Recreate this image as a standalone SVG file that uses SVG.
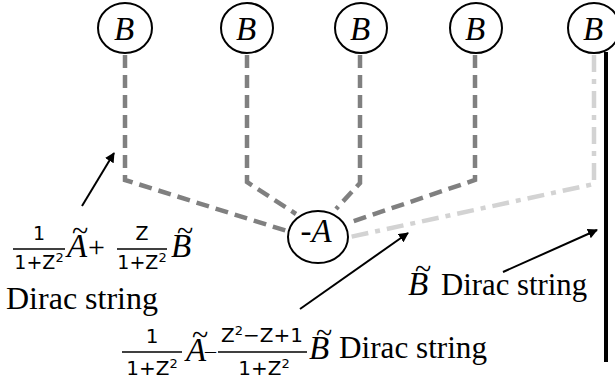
<svg xmlns="http://www.w3.org/2000/svg" width="615" height="379" viewBox="0 0 615 379">
<style>
.node{fill:#fff;stroke:#000;stroke-width:2}
.lbl{font-family:"Liberation Serif","Times New Roman",serif;font-style:italic;font-size:33px;fill:#000;text-anchor:middle}
.ser{font-family:"Liberation Serif","Times New Roman",serif;font-size:32px;fill:#000}
.it{font-family:"Liberation Serif","Times New Roman",serif;font-style:italic;font-size:33px;fill:#000}
.til{font-family:"Liberation Serif","Times New Roman",serif;font-size:30px;fill:#000;text-anchor:middle}
.fr{font-family:"DejaVu Sans","Noto Sans",sans-serif;font-size:19px;fill:#000;text-anchor:middle}
.fr2{font-family:"DejaVu Sans","Noto Sans",sans-serif;font-size:20px;fill:#000;text-anchor:middle}
.sup{font-size:13px}
.op{font-family:"Liberation Serif","Times New Roman",serif;font-size:30px;fill:#000}
.op2{font-family:"Liberation Serif","Times New Roman",serif;font-size:22px;fill:#000}
.dash{fill:none;stroke:#808080;stroke-width:4.5;stroke-dasharray:13 7}
.dashdot{fill:none;stroke:#d3d3d3;stroke-width:4.5;stroke-dasharray:17 7 5 7}
.solid{fill:none;stroke:#000;stroke-width:4}
.arr{fill:none;stroke:#000;stroke-width:2;marker-end:url(#ah)}
.bar{stroke:#000;stroke-width:1.5}
</style>
<defs>
<marker id="ah" viewBox="0 0 10 10" refX="9" refY="5" markerWidth="5" markerHeight="5" orient="auto" markerUnits="strokeWidth">
<path d="M0,0 L10,5 L0,10 z" fill="#000"/>
</marker>
</defs>
<g id="connectors">
<polyline class="dash" points="125,55 125,180 287,231"/>
<polyline class="dash" points="247,55 247,182 296,214"/>
<polyline class="dash" points="360,55 360,183 336,209"/>
<polyline class="dash" points="475,55 475,180 348,223"/>
<polyline class="dashdot" points="594,55 594,184 350,237"/>
<line class="solid" x1="606" y1="52" x2="606" y2="362"/>
<line class="arr" x1="82" y1="206" x2="114" y2="153"/>
<line class="arr" x1="300" y1="309" x2="408" y2="233"/>
<line class="arr" x1="503" y1="272" x2="597" y2="230"/>
</g>
<g id="B1"><ellipse class="node" cx="125" cy="28" rx="27" ry="25"/><text class="lbl" x="124" y="40">B</text></g>
<g id="B2"><ellipse class="node" cx="247" cy="28" rx="26" ry="25"/><text class="lbl" x="246" y="40">B</text></g>
<g id="B3"><ellipse class="node" cx="361" cy="28" rx="26" ry="25"/><text class="lbl" x="360" y="40">B</text></g>
<g id="B4"><ellipse class="node" cx="476" cy="28" rx="26" ry="25"/><text class="lbl" x="475" y="40">B</text></g>
<g id="B5"><ellipse class="node" cx="594" cy="28" rx="26" ry="25"/><text class="lbl" x="593" y="40">B</text></g>
<g id="A"><ellipse class="node" cx="318" cy="237" rx="30" ry="26"/><text class="lbl" x="316" y="242">-A</text></g>
<g id="label-left">
<text class="fr" x="39" y="240">1</text>
<line class="bar" x1="13" y1="249" x2="65" y2="249"/>
<text class="fr" x="39" y="269">1+Z<tspan class="sup" dy="-7">2</tspan></text>
<text class="it" x="67" y="257">A</text>
<text class="til" x="80" y="241">~</text>
<text class="op" x="88" y="257">+</text>
<text class="fr" x="142" y="240">Z</text>
<line class="bar" x1="117" y1="249" x2="167" y2="249"/>
<text class="fr" x="142" y="269">1+Z<tspan class="sup" dy="-7">2</tspan></text>
<text class="it" x="171" y="257">B</text>
<text class="til" x="185" y="241">~</text>
<text class="ser" x="6" y="309" textLength="152" lengthAdjust="spacingAndGlyphs">Dirac string</text>
</g>
<g id="label-right">
<text class="it" x="408" y="295">B</text>
<text class="til" x="423" y="279">~</text>
<text class="ser" x="441" y="295" textLength="146" lengthAdjust="spacingAndGlyphs">Dirac string</text>
</g>
<g id="label-bottom">
<text class="fr2" x="152" y="343">1</text>
<line class="bar" x1="122" y1="352" x2="182" y2="352"/>
<text class="fr2" x="152" y="375">1+Z<tspan class="sup" dy="-7">2</tspan></text>
<text class="it" x="186" y="361">A</text>
<text class="til" x="200" y="345">~</text>
<text class="op2" x="205" y="358">–</text>
<text class="fr2" x="262" y="342">Z<tspan class="sup" dy="-7">2</tspan><tspan dy="7">−Z+1</tspan></text>
<line class="bar" x1="218" y1="352" x2="307" y2="352"/>
<text class="fr2" x="264" y="375">1+Z<tspan class="sup" dy="-7">2</tspan></text>
<text class="it" x="309" y="359">B</text>
<text class="til" x="324" y="343">~</text>
<text class="ser" x="339" y="358" textLength="148" lengthAdjust="spacingAndGlyphs">Dirac string</text>
</g>
</svg>
